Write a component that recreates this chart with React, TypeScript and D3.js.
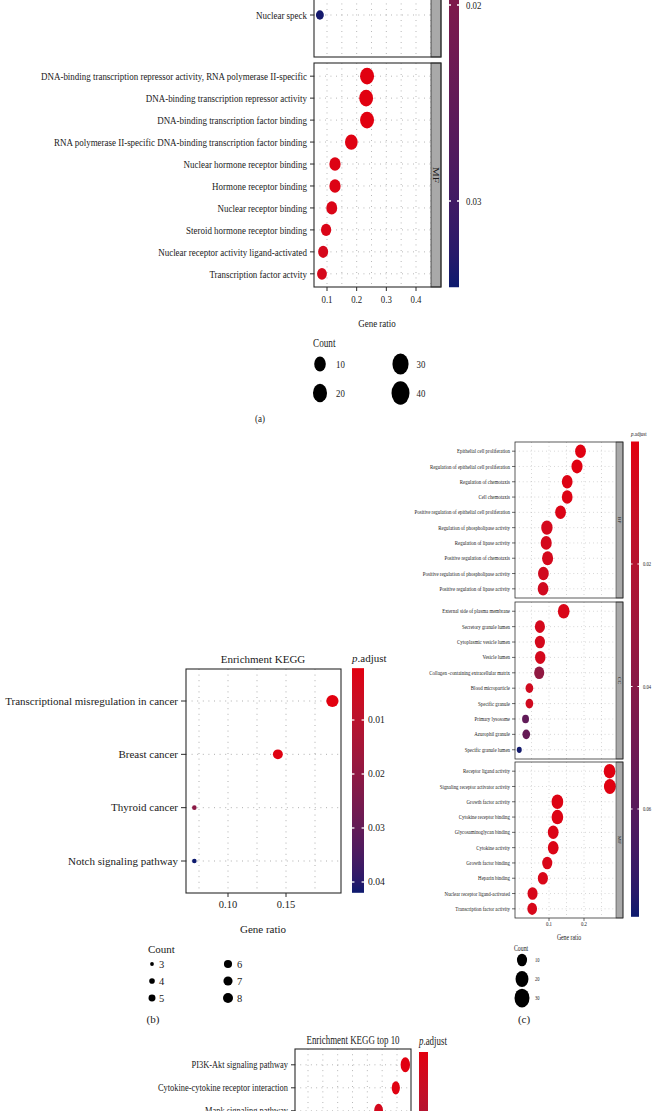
import React from "react";
import * as d3 from "d3";

const SERIF = "'Liberation Serif', 'Times New Roman', serif";
const LOW = "#e2000f";
const HIGH = "#0d1a6e";

// ---------- (a) GO enrichment, lower part ----------
const aCcTerms = ["Nuclear speck"];
const aCcRatio = [0.076];
const aCcCount = [5];
const aCcPadj = [0.034];

const aMfTerms = [
  "DNA-binding transcription repressor activity, RNA polymerase II-specific",
  "DNA-binding transcription repressor activity",
  "DNA-binding transcription factor binding",
  "RNA polymerase II-specific DNA-binding transcription factor binding",
  "Nuclear hormone receptor binding",
  "Hormone receptor binding",
  "Nuclear receptor binding",
  "Steroid hormone receptor binding",
  "Nuclear receptor activity ligand-activated",
  "Transcription factor actvity",
];
const aMfRatio = [0.235, 0.232, 0.235, 0.182, 0.127, 0.127, 0.116, 0.097, 0.087, 0.083];
const aMfCount = [40, 39, 40, 31, 22, 22, 20, 16, 15, 14];
const aMfPadj = [0.0006, 0.0006, 0.0006, 0.001, 0.0015, 0.0015, 0.002, 0.002, 0.003, 0.003];
const aXTicks = [0.1, 0.2, 0.3, 0.4];
const aSizeBreaks = [10, 20, 30, 40];
const aColorTicks = [0.02, 0.03];

// ---------- (b) KEGG ----------
const bTerms = [
  "Transcriptional misregulation in cancer",
  "Breast cancer",
  "Thyroid cancer",
  "Notch signaling pathway",
];
const bRatio = [0.19, 0.143, 0.071, 0.071];
const bCount = [8, 6, 3, 3];
const bPadj = [0.0005, 0.001, 0.021, 0.042];
const bXTicks = [0.1, 0.15];
const bSizeBreaks = [3, 4, 5, 6, 7, 8];
const bColorTicks = [0.01, 0.02, 0.03, 0.04];

// ---------- (c) GO BP / CC / MF ----------
const cBpTerms = [
  "Epithelial cell proliferation",
  "Regulation of epithelial cell proliferation",
  "Regulation of chemotaxis",
  "Cell chemotaxis",
  "Positive regulation of epithelial cell proliferation",
  "Regulation of phospholipase activity",
  "Regulation of lipase activity",
  "Positive regulation of chemotaxis",
  "Positive regulation of phospholipase activity",
  "Positive regulation of lipase activity",
];
const cBpRatio = [0.19, 0.18, 0.152, 0.152, 0.133, 0.094, 0.092, 0.096, 0.084, 0.083];
const cBpCount = [12, 13, 12, 12, 12, 14, 13, 13, 12, 12];
const cBpPadj = [0.001, 0.001, 0.002, 0.002, 0.003, 0.006, 0.006, 0.006, 0.008, 0.008];

const cCcTerms = [
  "External side of plasma membrane",
  "Secretory granule lumen",
  "Cytoplasmic vesicle lumen",
  "Vesicle lumen",
  "Collagen -containing extracellular matrix",
  "Blood microparticle",
  "Specific granule",
  "Primary lysosome",
  "Azurophil granule",
  "Specific granule lumen",
];
const cCcRatio = [0.142, 0.074, 0.074, 0.075, 0.072, 0.044, 0.044, 0.033, 0.035, 0.015];
const cCcCount = [15, 10, 10, 11, 10, 5, 5, 4, 5, 3];
const cCcPadj = [0.004, 0.006, 0.006, 0.006, 0.036, 0.008, 0.008, 0.056, 0.054, 0.077];

const cMfTerms = [
  "Receptor ligand activity",
  "Signaling receptor activator activity",
  "Growth factor activity",
  "Cytokine receptor binding",
  "Glycosaminoglycan binding",
  "Cytokine activity",
  "Growth factor binding",
  "Heparin binding",
  "Nuclear receptor ligand-activated",
  "Transcription factor activity",
];
const cMfRatio = [0.273, 0.274, 0.124, 0.124, 0.112, 0.112, 0.095, 0.0825, 0.053, 0.052];
const cMfCount = [15, 16, 15, 15, 12, 12, 10, 10, 10, 9];
const cMfPadj = [0.001, 0.001, 0.002, 0.002, 0.003, 0.003, 0.004, 0.004, 0.005, 0.005];
const cXTicks = [0.1, 0.2];
const cSizeBreaks = [10, 20, 30];
const cColorTicks = [0.02, 0.04, 0.06];

// ---------- (d) KEGG top 10, upper part ----------
const dTerms = [
  "PI3K-Akt signaling pathway",
  "Cytokine-cytokine receptor interaction",
  "Mapk signaling pathway",
];
const dRatio = [0.214, 0.198, 0.169];
const dCount = [26, 20, 23];
const dPadj = [0.0002, 0.0005, 0.004];

const mkColor = (lo: number, hi: number) =>
  d3.scaleLinear<string>().domain([lo, hi]).range([LOW, HIGH]).interpolate(d3.interpolateLab).clamp(true);

function T(props: any) {
  const { x, y, sy = 1, size, anchor = "start", rotate = 0, dy, children, italic } = props;
  return (
    <text
      transform={`translate(${x},${y}) scale(1,${sy})${rotate ? ` rotate(${rotate})` : ""}`}
      fontSize={size}
      textAnchor={anchor}
      dy={dy}
      fill="#1a1a1a"
      fontStyle={italic ? "italic" : undefined}
    >
      {children}
    </text>
  );
}

function Facet(p: any) {
  const y = d3
    .scalePoint<string>()
    .domain(p.terms)
    .range([p.rangeTop ?? p.y0, p.rangeBottom ?? p.y1])
    .padding(0.6);
  const sw = p.stripW || 0;
  const lw = p.lw || 1;
  const dash = p.dash || "0.9 4.6";
  return (
    <g>
      <rect x={p.x0} y={p.y0} width={p.x1 - p.x0} height={p.y1 - p.y0} fill="#fff" />
      {p.grid.map((g: number) => (
        <line key={"v" + g} x1={p.x(g)} x2={p.x(g)} y1={p.y0} y2={p.y1}
          stroke="#8c8c8c" strokeWidth={0.7 * lw} strokeDasharray={dash} />
      ))}
      {p.terms.map((t: string) => (
        <line key={"h" + t} x1={p.x0} x2={p.x1} y1={y(t)} y2={y(t)}
          stroke="#8c8c8c" strokeWidth={0.7 * lw} strokeDasharray={dash} />
      ))}
      {p.terms.map((t: string, i: number) => {
        const r = p.radius(p.count[i]);
        return (
          <ellipse key={"d" + t} cx={p.x(p.ratio[i])} cy={y(t)} rx={r} ry={r * p.dotSy}
            fill={p.color(p.padj[i])} />
        );
      })}
      {sw > 0 && (
        <rect x={p.x1} y={p.y0} width={sw} height={p.y1 - p.y0} fill="#a9a9a9"
          stroke="#333" strokeWidth={0.8 * lw} />
      )}
      {p.stripLabel && (
        <T x={p.x1 + sw / 2} y={(p.y0 + p.y1) / 2} sy={p.textSy} size={p.stripFont}
          anchor="middle" rotate={90} dy="0.35em">{p.stripLabel}</T>
      )}
      <rect x={p.x0} y={p.y0} width={p.x1 - p.x0 + sw} height={p.y1 - p.y0} fill="none"
        stroke="#2a2a2a" strokeWidth={1.1 * lw} />
      {p.terms.map((t: string) => (
        <g key={"l" + t}>
          <line x1={p.x0 - p.tick} x2={p.x0} y1={y(t)} y2={y(t)} stroke="#2a2a2a" strokeWidth={lw} />
          <T x={p.x0 - p.tick - p.gap} y={y(t)} sy={p.textSy} size={p.font} anchor="end" dy="0.33em">{t}</T>
        </g>
      ))}
    </g>
  );
}

function ColorBar(p: any) {
  const y0 = p.yScale(p.lo);
  const y1 = p.yScale(p.hi);
  const stops = d3.range(0, 1.0001, 0.05);
  return (
    <g>
      <defs>
        <linearGradient id={p.id} x1="0" y1="0" x2="0" y2="1">
          {stops.map((t: number) => (
            <stop key={t} offset={t} stopColor={p.color(p.lo + t * (p.hi - p.lo))} />
          ))}
        </linearGradient>
      </defs>
      <rect x={p.x} y={y0} width={p.w} height={y1 - y0} fill={`url(#${p.id})`} />
      {p.ticks.map((t: number) => (
        <g key={t}>
          <line x1={p.x} x2={p.x + p.w * 0.2} y1={p.yScale(t)} y2={p.yScale(t)} stroke="#fff" strokeWidth={p.tw || 1.3} />
          <line x1={p.x + p.w * 0.8} x2={p.x + p.w} y1={p.yScale(t)} y2={p.yScale(t)} stroke="#fff" strokeWidth={p.tw || 1.3} />
          <T x={p.labelX} y={p.yScale(t)} sy={p.sy} size={p.font} dy="0.35em">{p.fmt(t)}</T>
        </g>
      ))}
    </g>
  );
}

function XAxis(p: any) {
  return (
    <g>
      {p.ticks.map((t: number) => (
        <g key={t}>
          <line x1={p.x(t)} x2={p.x(t)} y1={p.y} y2={p.y + p.len} stroke="#2a2a2a" strokeWidth={p.lw || 1} />
          <T x={p.x(t)} y={p.labelY} sy={p.sy} size={p.font} anchor="middle">{p.fmt(t)}</T>
        </g>
      ))}
    </g>
  );
}

function PanelA() {
  const x = d3.scaleLinear().domain([0.1, 0.4]).range([327, 416]);
  const color = mkColor(0.0005, 0.0344);
  const rPlot = d3.scaleRadial().domain([0, 40]).range([3.3, 7]);
  const rLeg = d3.scaleRadial().domain([0, 40]).range([4.2, 9]);
  const grid = d3.range(0.05, 0.46, 0.05).filter((g) => x(g) > 314.5 && x(g) < 431);
  const yBar = d3.scaleLinear().domain([0.02, 0.03]).range([5, 201]);
  const common = {
    x, grid, color, radius: rPlot, dotSy: 1.2, textSy: 1.25, font: 8.95,
    x0: 314, x1: 431, stripW: 10, tick: 4, gap: 3, stripFont: 8.8,
  };
  const sy = 1.25;
  return (
    <g>
      <Facet {...common} terms={aCcTerms} ratio={aCcRatio} count={aCcCount} padj={aCcPadj}
        y0={-167} y1={57} rangeTop={-27} />
      <Facet {...common} terms={aMfTerms} ratio={aMfRatio} count={aMfCount} padj={aMfPadj}
        y0={63} y1={287} stripLabel="MF" />
      <XAxis x={x} ticks={aXTicks} y={287} len={4} labelY={303} sy={sy} font={8.8} fmt={d3.format(".1f")} />
      <T x={377} y={327} sy={sy} size={9} anchor="middle">Gene ratio</T>
      <ColorBar id="cbA" x={449} w={10} yScale={yBar} lo={0.0005} hi={0.0344} color={color}
        ticks={aColorTicks} labelX={466} font={8.8} sy={sy} fmt={d3.format(".2f")} />
      <T x={313} y={347} sy={sy} size={9.2}>Count</T>
      {aSizeBreaks.map((c, i) => {
        const cx = i < 2 ? 320 : 400.5;
        const cy = i % 2 === 0 ? 364 : 393;
        const r = rLeg(c);
        return (
          <g key={c}>
            <ellipse cx={cx} cy={cy} rx={r} ry={r * 1.3} fill="#000" />
            <T x={cx + 16} y={cy} sy={sy} size={8.8} dy="0.35em">{c}</T>
          </g>
        );
      })}
      <T x={260} y={422} sy={sy} size={9} anchor="middle">(a)</T>
    </g>
  );
}

function PanelB() {
  const x = d3.scaleLinear().domain([0.1, 0.15]).range([228, 286]);
  const color = mkColor(0.0004, 0.042);
  const r = d3.scaleRadial().domain([3, 8]).range([2.3, 6.1]);
  const rLeg = d3.scaleRadial().domain([3, 8]).range([1.9, 5]);
  const grid = [0.075, 0.1, 0.125, 0.15, 0.175];
  const yBar = d3.scaleLinear().domain([0.01, 0.04]).range([720, 882]);
  return (
    <g>
      <T x={263} y={663} size={11} anchor="middle">Enrichment KEGG</T>
      <Facet x={x} grid={grid} color={color} radius={r} dotSy={1} textSy={1} font={11}
        x0={186} x1={341} y0={669} y1={893} tick={5} gap={3}
        terms={bTerms} ratio={bRatio} count={bCount} padj={bPadj} dash="1 4.6" />
      <XAxis x={x} ticks={bXTicks} y={893} len={4} labelY={908} font={10.5} fmt={d3.format(".2f")} />
      <T x={263} y={933} size={11} anchor="middle">Gene ratio</T>
      <text x={352} y={662} fontSize={11} fill="#1a1a1a">
        <tspan fontStyle="italic">p</tspan>.adjust
      </text>
      <ColorBar id="cbB" x={352} w={12} yScale={yBar} lo={0.0004} hi={0.042} color={color}
        ticks={bColorTicks} labelX={368} font={9.6} fmt={d3.format(".2f")} />
      <T x={148} y={953} size={11}>Count</T>
      {bSizeBreaks.map((c, i) => {
        const cx = i < 3 ? 152 : 228;
        const cy = 964 + (i % 3) * 17;
        return (
          <g key={c}>
            <circle cx={cx} cy={cy} r={rLeg(c)} fill="#000" />
            <T x={cx + (i < 3 ? 7 : 9)} y={cy} size={10.5} dy="0.35em">{c}</T>
          </g>
        );
      })}
      <T x={153} y={1023} size={11} anchor="middle">(b)</T>
    </g>
  );
}

function PanelC() {
  const x = d3.scaleLinear().domain([0.1, 0.2]).range([549, 584]);
  const color = mkColor(0, 0.0776);
  const sq = d3.scaleSqrt().domain([0, 27]).range([0, 5]);
  const radius = (c: number) => 2.5 + sq(c - 3);
  const grid = [0.05, 0.1, 0.15, 0.2, 0.25];
  const yBar = d3.scaleLinear().domain([0.02, 0.06]).range([564, 809]);
  const sy = 1.25;
  const common = {
    x, grid, color, radius, dotSy: 1.25, textSy: sy, font: 4.9,
    x0: 515, x1: 616, stripW: 7, tick: 3, gap: 2, stripFont: 4.6, lw: 0.7, dash: "0.7 3.2",
  };
  return (
    <g>
      <Facet {...common} terms={cBpTerms} ratio={cBpRatio} count={cBpCount} padj={cBpPadj}
        y0={442} y1={598} stripLabel="BP" />
      <Facet {...common} terms={cCcTerms} ratio={cCcRatio} count={cCcCount} padj={cCcPadj}
        y0={602} y1={759} stripLabel="CC" />
      <Facet {...common} terms={cMfTerms} ratio={cMfRatio} count={cMfCount} padj={cMfPadj}
        y0={762} y1={918} stripLabel="MF" />
      <XAxis x={x} ticks={cXTicks} y={918} len={3} lw={0.7} labelY={926} sy={sy} font={4.8} fmt={d3.format(".1f")} />
      <T x={569} y={940} sy={sy} size={5.8} anchor="middle">Gene ratio</T>
      <text transform={`translate(631,436) scale(1,${sy})`} fontSize={5} fill="#1a1a1a">
        <tspan fontStyle="italic">p</tspan>.adjust
      </text>
      <ColorBar id="cbC" x={631} w={8} yScale={yBar} lo={0} hi={0.0776} color={color} tw={1}
        ticks={cColorTicks} labelX={643} font={4.6} sy={sy} fmt={d3.format(".2f")} />
      <T x={514} y={951} sy={sy} size={5.8}>Count</T>
      {cSizeBreaks.map((c, i) => {
        const cy = 960 + i * 19;
        const r = radius(c);
        return (
          <g key={c}>
            <ellipse cx={522} cy={cy} rx={r} ry={r * 1.25} fill="#000" />
            <T x={535} y={cy} sy={sy} size={4.5} dy="0.35em">{c}</T>
          </g>
        );
      })}
      <T x={524} y={1023} size={11} anchor="middle">(c)</T>
    </g>
  );
}

function PanelD() {
  const x = d3.scaleLinear().domain([0.05, 0.2]).range([308, 397]);
  const color = mkColor(0, 0.05);
  const r = d3.scaleSqrt().domain([0, 26]).range([0, 4.7]);
  const grid = d3.range(0.05, 0.201, 0.025);
  const yBar = d3.scaleLinear().domain([0, 0.05]).range([1052, 1282]);
  const sy = 1.3;
  return (
    <g>
      <T x={353} y={1044} sy={sy} size={8.9} anchor="middle">Enrichment KEGG top 10</T>
      <Facet x={x} grid={grid} color={color} radius={r} dotSy={1.6} textSy={sy} font={8.4}
        x0={295} x1={411} y0={1049} y1={1284} rangeTop={1051} rangeBottom={1051 + 23 * 3.2}
        tick={4} gap={3} terms={dTerms} ratio={dRatio} count={dCount} padj={dPadj} dash="0.9 4.4" />
      <text transform={`translate(419,1045) scale(1,${sy})`} fontSize={8.9} fill="#1a1a1a">
        <tspan fontStyle="italic">p</tspan>.adjust
      </text>
      <ColorBar id="cbD" x={419} w={9} yScale={yBar} lo={0} hi={0.05} color={color}
        ticks={[]} labelX={432} font={8} sy={sy} fmt={d3.format(".2f")} />
    </g>
  );
}

export default function App() {
  return (
    <svg
      width={652}
      height={1111}
      fontFamily={SERIF}
      style={{ position: "absolute", left: 0, top: 0, background: "#fff", display: "block" }}
    >
      <rect width={652} height={1111} fill="#fff" />
      <PanelA />
      <PanelB />
      <PanelC />
      <PanelD />
    </svg>
  );
}
